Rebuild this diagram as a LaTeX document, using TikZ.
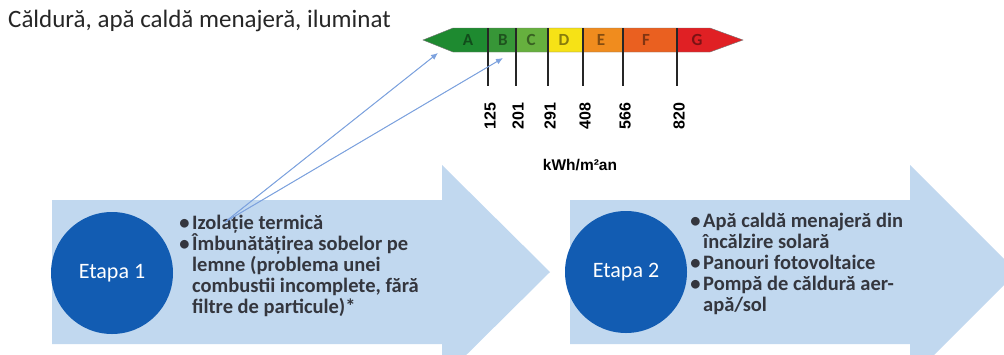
\documentclass[tikz,border=0pt]{standalone}
\usepackage{fontspec}
\setmainfont{Carlito}
\newfontfamily\numfont{Liberation Sans}
\usetikzlibrary{positioning,arrows.meta}
\definecolor{arrowblue}{RGB}{193,216,239}
\definecolor{stageblue}{RGB}{18,92,178}
\definecolor{itemgray}{RGB}{52,54,62}
\definecolor{linkblue}{RGB}{125,162,222}
\definecolor{tipblue}{RGB}{40,112,212}
\definecolor{gA}{RGB}{30,138,48}
\definecolor{gB}{RGB}{55,150,55}
\definecolor{gC}{RGB}{102,176,62}
\definecolor{gD}{RGB}{246,226,22}
\definecolor{gE}{RGB}{240,140,30}
\definecolor{gF}{RGB}{234,96,32}
\definecolor{gG}{RGB}{224,32,36}
\newcommand{\itm}{\llap{\textbullet\hspace{2.5pt}}}
\tikzset{
	stage/.style ={circle, fill=stageblue, text=white, minimum size=122pt,
	 inner sep=0pt, font=\fontsize{22}{24}\selectfont},
	items/.style = {anchor=base west, inner sep=0pt, align=left, text=itemgray,
	 font=\fontsize{20.5}{21}\selectfont\bfseries},
	tick/.style = {rotate=90, inner sep=0pt, font=\numfont\bfseries\fontsize{16}{18}\selectfont},
	grade/.style = {inner sep=0pt, font=\bfseries\fontsize{17}{18}\selectfont},
	link/.style = {-{Latex[length=7pt,width=6pt]}, draw=linkblue, fill=tipblue, line width=1pt},
}
\begin{document}
\begin{tikzpicture}[x=1pt,y=-1pt]
	\useasboundingbox (0,0) rectangle (1004,354);
	\begin{scope}
	\clip (0,0) rectangle (1004,354);
	% big arrows
	\fill[arrowblue] (52,200) -- (442,200) -- (442,165) -- (550,272) -- (442,379) -- (442,344) -- (52,344) -- cycle;
	\fill[arrowblue] (570,200) -- (910,200) -- (910,165) -- (1017,272) -- (910,379) -- (910,344) -- (570,344) -- cycle;
	\end{scope}
	\node (title) [anchor=west, inner sep=0pt, text=black!85, font=\fontsize{25}{28}\selectfont] at (8,21) {Căldură, apă caldă menajeră, iluminat};
	% energy scale
	\begin{scope}
	\clip (423,40) -- (453,28) -- (710,28) -- (743,40) -- (710,52) -- (453,52) -- cycle;
	\foreach \a/\b/\c in {423/488/gA, 488/516/gB, 516/548/gC, 548/583/gD, 583/623/gE, 623/677/gF, 677/745/gG}
		\fill[\c] (\a,20) rectangle (\b,60);
	\end{scope}
	\draw[black!55, thin] (423,40) -- (453,28) -- (710,28) -- (743,40) -- (710,52) -- (453,52) -- cycle;
	\foreach \x/\l/\c in {468/A/gA, 503/B/gB, 531/C/gC, 564/D/gD, 601/E/gE, 646/F/gF, 697/G/gG}
		\node (g\l) [grade, text=\c!55!black] at (\x,40) {\l};
	\foreach \x/\v in {488/125, 516/201, 548/291, 583/408, 623/566, 677/820} {
		\draw[black!85, line width=1.2pt] (\x,28) -- (\x,86);
		\node (v\v) [tick] at (\x+2,116) {\v};
	}
	\node (unit) [inner sep=0pt, font=\numfont\bfseries\fontsize{15.5}{17}\selectfont] at (580,165) {kWh/m²an};
	% stages
	\node (s1) [stage] at (112,273) {Etapa 1};
	\node (s2) [stage] at (626,272) {Etapa 2};
	\node (i1) [items] at (192,313) {\itm Izolație termică\\
		\itm Îmbunătățirea sobelor pe\\
		lemne (problema unei\\
		combustii incomplete, fără\\
		filtre de particule)*};
	\node (i2) [items] at (703,311) {\itm Apă caldă menajeră din\\
		încălzire solară\\
		\itm Panouri fotovoltaice\\
		\itm Pompă de căldură aer-\\
		apă/sol};
	% links to the scale
	\coordinate (src) at (225,222);
	\coordinate (toA) at (438,53);
	\coordinate (toB) at (503,58);
	\draw[link] (src) -- (toA);
	\draw[link] (src) -- (toB);
\end{tikzpicture}
\end{document}
